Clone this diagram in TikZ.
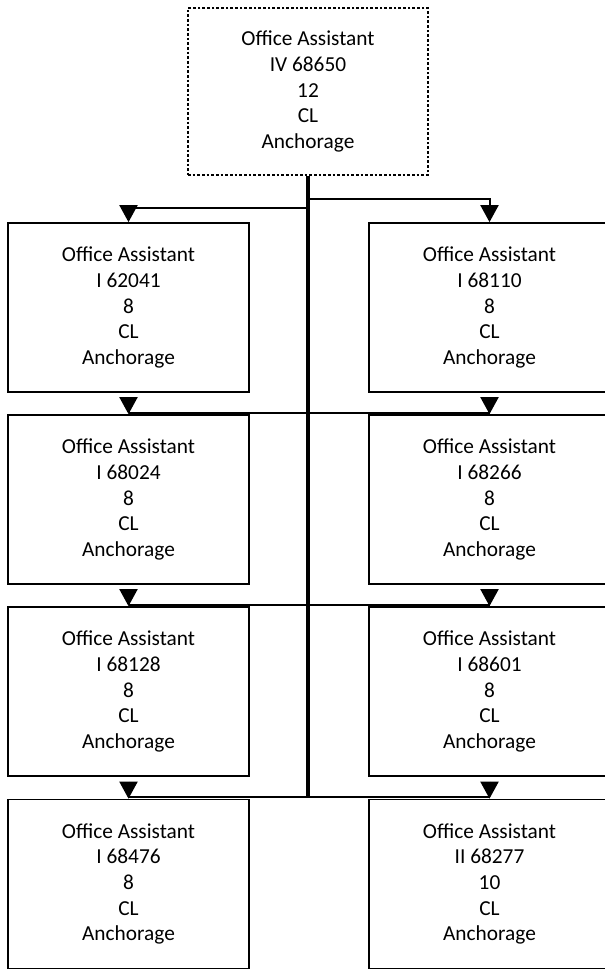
\documentclass[tikz,border=0pt]{standalone}
\usepackage{fontspec}
\setmainfont{Carlito}
\usetikzlibrary{arrows.meta}
\begin{document}
\begin{tikzpicture}[x=0.75pt,y=-0.75pt,
  box/.style={draw, line width=1.3pt, minimum width=180.75pt, minimum height=126.75pt,
    align=center, font=\fontsize{16}{19.2}\selectfont, inner sep=0pt},
  topbox/.style={box, dash pattern=on 2pt off 1.5pt, minimum width=180pt, minimum height=125.25pt},
  trunk/.style={line width=2.6pt},
  conn/.style={line width=1.5pt},
  tipline/.style={line width=1.5pt, -{Triangle[length=12.75pt,width=13.5pt]}}
]
\useasboundingbox (0,0) rectangle (605,969);
\clip (0,0) rectangle (605,969);
\node[topbox] (top) at (308,91.5) {Office Assistant\\IV 68650\\12\\CL\\Anchorage};
\node[box] (L1) at (128.5,307.5) {Office Assistant\\I 62041\\8\\CL\\Anchorage};
\node[box] (R1) at (489.5,307.5) {Office Assistant\\I 68110\\8\\CL\\Anchorage};
\node[box] (L2) at (128.5,499.5) {Office Assistant\\I 68024\\8\\CL\\Anchorage};
\node[box] (R2) at (489.5,499.5) {Office Assistant\\I 68266\\8\\CL\\Anchorage};
\node[box] (L3) at (128.5,691.5) {Office Assistant\\I 68128\\8\\CL\\Anchorage};
\node[box] (R3) at (489.5,691.5) {Office Assistant\\I 68601\\8\\CL\\Anchorage};
\node[box] (L4) at (128.5,884) {Office Assistant\\I 68476\\8\\CL\\Anchorage};
\node[box] (R4) at (489.5,884) {Office Assistant\\II 68277\\10\\CL\\Anchorage};
% trunk junctions
\coordinate (b1l) at (308,208);
\coordinate (b1r) at (308,199);
\coordinate (b2) at (308,413);
\coordinate (b3) at (308,605);
\coordinate (b4) at (308,797);
\draw[trunk] (top.south) -- (b4);
% row 1
\draw[conn] (b1l) -| ([yshift=12pt]L1.north);
\draw[conn] (b1r) -| ([yshift=12pt]R1.north);
\draw[tipline] ([yshift=12.75pt]L1.north) -- (L1.north);
\draw[tipline] ([yshift=12.75pt]R1.north) -- (R1.north);
% rows 2-4
\foreach \r in {2,3,4}{
  \draw[conn] (b\r -| L\r.north) -- (b\r -| R\r.north);
  \draw[tipline] ([yshift=12.75pt]L\r.north) -- (L\r.north);
  \draw[tipline] ([yshift=12.75pt]R\r.north) -- (R\r.north);
}
\end{tikzpicture}
\end{document}
